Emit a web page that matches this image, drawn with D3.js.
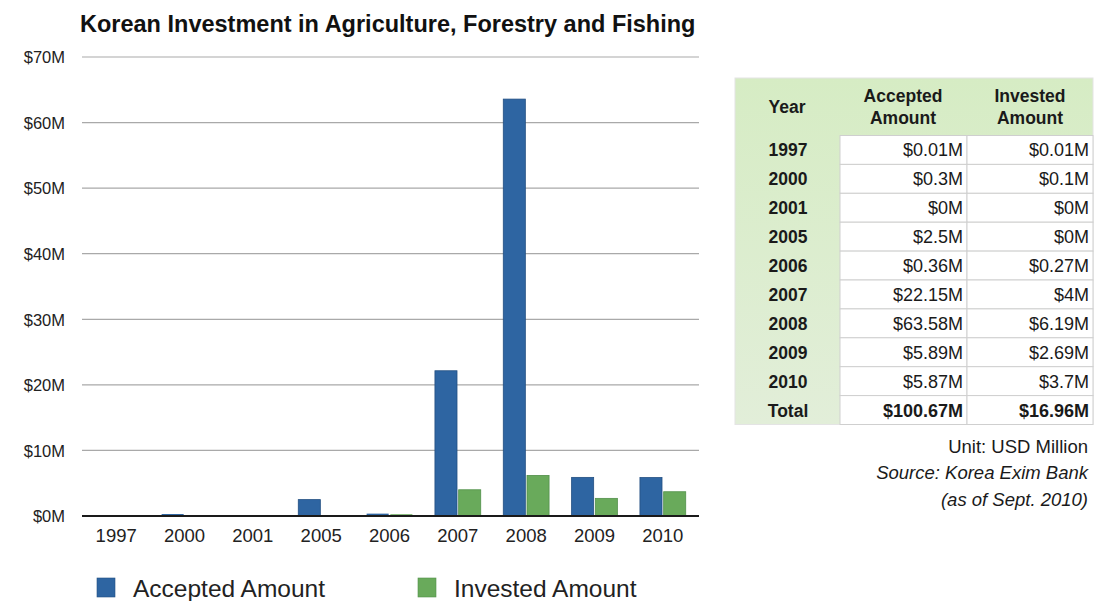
<!DOCTYPE html>
<html>
<head>
<meta charset="utf-8">
<script src="https://cdn.jsdelivr.net/npm/d3@7"></script>
<style>
  html, body { margin: 0; padding: 0; background: #ffffff; }
  svg { display: block; font-family: "Liberation Sans", Arial, Helvetica, sans-serif; }
</style>
</head>
<body>
<svg id="chart" width="1096" height="601"></svg>
<script>
// ---------- data ----------
const years = ["1997", "2000", "2001", "2005", "2006", "2007", "2008", "2009", "2010"];
const accepted = [0.01, 0.3, 0, 2.5, 0.36, 22.15, 63.58, 5.89, 5.87];
const invested = [0.01, 0.1, 0, 0, 0.27, 4, 6.19, 2.69, 3.7];
const seriesNames = ["Accepted Amount", "Invested Amount"];
const yTicks = [0, 10, 20, 30, 40, 50, 60, 70];
const acceptedLabels = ["$0.01M", "$0.3M", "$0M", "$2.5M", "$0.36M", "$22.15M", "$63.58M", "$5.89M", "$5.87M"];
const investedLabels = ["$0.01M", "$0.1M", "$0M", "$0M", "$0.27M", "$4M", "$6.19M", "$2.69M", "$3.7M"];
const totalLabels = ["Total", "$100.67M", "$16.96M"];
const tableHeaders = [["Year"], ["Accepted", "Amount"], ["Invested", "Amount"]];
const notes = ["Unit: USD Million", "Source: Korea Exim Bank", "(as of Sept. 2010)"];
const title = "Korean Investment in Agriculture, Forestry and Fishing";

// ---------- setup ----------
const svg = d3.select("#chart");
const colors = ["#2e65a2", "#69aa5b"];
const strokeColors = ["#234f82", "#52904a"];

const x0 = d3.scaleBand().domain(years).range([82, 697]).paddingInner(0.33).paddingOuter(0.165);
const x1 = d3.scaleBand().domain(seriesNames).range([0, x0.bandwidth()]).paddingInner(0.07);
const y = d3.scaleLinear().domain([0, 70]).range([516, 57]);

// title
svg.append("text")
  .attr("x", 80).attr("y", 32)
  .attr("font-size", 23.5).attr("font-weight", "bold").attr("fill", "#111")
  .text(title);

// y axis labels
const yAxis = d3.axisLeft(y).tickValues(yTicks).tickSize(0).tickPadding(0)
  .tickFormat(d => "$" + d + "M");
const gy = svg.append("g").attr("transform", "translate(65,0)").call(yAxis);
gy.select(".domain").remove();
gy.selectAll("text").attr("font-size", 16.5).attr("fill", "#222")
  .attr("font-family", "Liberation Sans, Arial, sans-serif").attr("dy", "0.35em");

// gridlines
svg.append("g").selectAll("line")
  .data(yTicks.filter(d => d > 0))
  .join("line")
  .attr("x1", 82).attr("x2", 699)
  .attr("y1", d => y(d)).attr("y2", d => y(d))
  .attr("stroke", "#a9a9a9").attr("stroke-width", 1.2);

// bars
const groups = svg.append("g").selectAll("g")
  .data(years.map((yr, i) => ({ yr, vals: [accepted[i], invested[i]] })))
  .join("g")
  .attr("transform", d => `translate(${x0(d.yr)},0)`);

groups.selectAll("rect")
  .data(d => d.vals.map((v, k) => ({ v, k })))
  .join("rect")
  .attr("x", d => x1(seriesNames[d.k]))
  .attr("width", x1.bandwidth())
  .attr("y", d => y(d.v))
  .attr("height", d => Math.max(0, y(0) - y(d.v)))
  .attr("fill", d => colors[d.k])
  .attr("stroke", d => d.v > 0.5 ? strokeColors[d.k] : "none")
  .attr("stroke-width", 0.8);

// x axis
const xAxis = d3.axisBottom(x0).tickSize(0).tickPadding(15);
const gx = svg.append("g").attr("transform", "translate(0,516)").call(xAxis);
gx.select(".domain").attr("d", "M82,0H699").attr("stroke", "#1a1a1a").attr("stroke-width", 2);
gx.selectAll("text").attr("font-size", 18.5).attr("fill", "#222")
  .attr("font-family", "Liberation Sans, Arial, sans-serif").attr("dy", "0.6em");

// legend
const legend = svg.append("g");
const legendX = [97, 418];
seriesNames.forEach((name, k) => {
  legend.append("rect")
    .attr("x", legendX[k]).attr("y", 578).attr("width", 18).attr("height", 19)
    .attr("fill", colors[k]).attr("stroke", strokeColors[k]).attr("stroke-width", 0.6);
  legend.append("text")
    .attr("x", legendX[k] + 36).attr("y", 597)
    .attr("font-size", 24.5).attr("fill", "#222")
    .text(name);
});

// ---------- table ----------
const colX = [735, 840, 967, 1093];
const headTop = 78, rowTop = 135.5, rowH = 28.9;
const nRows = years.length + 1;
const tableBottom = rowTop + rowH * nRows;

const defs = svg.append("defs");
const grad = defs.append("linearGradient").attr("id", "greenGrad")
  .attr("x1", "0").attr("y1", "0").attr("x2", "0").attr("y2", "1");
grad.append("stop").attr("offset", "0").attr("stop-color", "#d6ecc4");
grad.append("stop").attr("offset", "1").attr("stop-color", "#e2eed9");

const tbl = svg.append("g");
tbl.append("rect")
  .attr("x", colX[0]).attr("y", headTop)
  .attr("width", colX[3] - colX[0]).attr("height", tableBottom - headTop)
  .attr("fill", "url(#greenGrad)").attr("stroke", "#e4e4e4").attr("stroke-width", 1);

d3.range(nRows).forEach(r => {
  [1, 2].forEach(c => {
    tbl.append("rect")
      .attr("x", colX[c]).attr("y", rowTop + r * rowH)
      .attr("width", colX[c + 1] - colX[c]).attr("height", rowH)
      .attr("fill", "#ffffff").attr("stroke", "#cfcfcf").attr("stroke-width", 1);
  });
});

// header text
const headCenters = [787, 903, 1030];
tableHeaders.forEach((lines, c) => {
  const t = tbl.append("text")
    .attr("x", headCenters[c]).attr("text-anchor", "middle")
    .attr("font-size", 17.5).attr("font-weight", "bold").attr("fill", "#1a1a1a");
  if (lines.length === 1) {
    t.append("tspan").attr("x", headCenters[c]).attr("y", 113).text(lines[0]);
  } else {
    t.append("tspan").attr("x", headCenters[c]).attr("y", 102).text(lines[0]);
    t.append("tspan").attr("x", headCenters[c]).attr("y", 124).text(lines[1]);
  }
});

// body text
const rowsData = years.map((yr, i) => [yr, acceptedLabels[i], investedLabels[i]]);
rowsData.push(totalLabels);
rowsData.forEach((row, r) => {
  const cy = rowTop + r * rowH + rowH / 2 + 6.5;
  const bold = r === nRows - 1 ? "bold" : "normal";
  tbl.append("text").attr("x", 788).attr("y", cy).attr("text-anchor", "middle")
    .attr("font-size", 17.5).attr("font-weight", "bold").attr("fill", "#1a1a1a").text(row[0]);
  tbl.append("text").attr("x", colX[2] - 4).attr("y", cy).attr("text-anchor", "end")
    .attr("font-size", 18).attr("font-weight", bold).attr("fill", "#1a1a1a").text(row[1]);
  tbl.append("text").attr("x", colX[3] - 4).attr("y", cy).attr("text-anchor", "end")
    .attr("font-size", 18).attr("font-weight", bold).attr("fill", "#1a1a1a").text(row[2]);
});

// notes
const noteY = [453, 479, 506];
notes.forEach((n, i) => {
  svg.append("text")
    .attr("x", 1088).attr("y", noteY[i]).attr("text-anchor", "end")
    .attr("font-size", 18.5).attr("fill", "#1a1a1a")
    .attr("font-style", i === 0 ? "normal" : "italic")
    .text(n);
});
</script>
</body>
</html>
